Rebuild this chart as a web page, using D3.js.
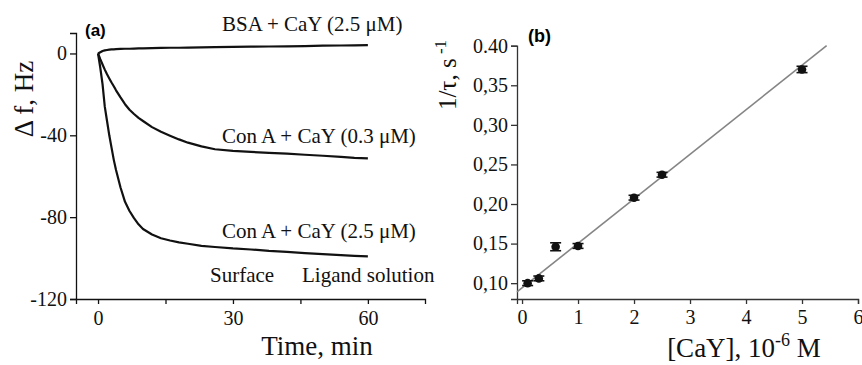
<!DOCTYPE html>
<html>
<head>
<meta charset="utf-8">
<script src="https://cdn.jsdelivr.net/npm/d3@7/dist/d3.min.js"></script>
<style>
  body { margin: 0; background: #fff; }
  svg { display: block; }
  .serif { font-family: "Liberation Serif", "Times New Roman", serif; }
</style>
</head>
<body>
<svg id="chart" width="862" height="365"></svg>
<script>
// panel (a): frequency shift vs time
const timeMin = [0, 0.5, 1, 1.5, 2, 2.5, 3, 3.5, 4, 5, 6, 7, 8, 9, 10, 12, 14, 16, 18, 20, 23, 26, 30, 34, 38, 42, 46, 50, 54, 57, 60];
const bsaShift = [0, 0.6, 1.2, 1.5, 1.7, 1.9, 2.0, 2.0, 2.1, 2.2, 2.3, 2.3, 2.4, 2.5, 2.5, 2.6, 2.7, 2.8, 2.8, 2.9, 3.0, 3.1, 3.2, 3.3, 3.4, 3.5, 3.6, 3.8, 3.9, 4.0, 4.1];
const conA03Shift = [0, -2.8, -5.4, -7.9, -10.2, -12.2, -14.2, -16.0, -18.0, -21.5, -24.8, -27.5, -29.6, -31.5, -33.0, -36.0, -38.3, -40.2, -42.0, -43.6, -45.4, -46.8, -47.6, -48.1, -48.6, -49.0, -49.5, -50.0, -50.5, -51.0, -51.3];
const conA25Shift = [0, -7, -15, -26, -33, -40, -46, -52, -57, -65.5, -72.5, -77, -80.5, -83.5, -85.8, -88.5, -90.3, -91.4, -92.3, -93.0, -94.0, -94.6, -95.3, -95.8, -96.5, -97.0, -97.6, -98.1, -98.6, -98.9, -99.2];
const timeTicks = [0, 15, 30, 45, 60];
const timeTickLabels = ["0", "", "30", "", "60"];
const shiftTicks = [0, -40, -80, -120];

// panel (b): rate vs concentration
const cayConc = [0.1, 0.3, 0.6, 1, 2, 2.5, 5];
const invTau = [0.100, 0.106, 0.146, 0.147, 0.208, 0.237, 0.370];
const invTauErr = [0.003, 0.003, 0.005, 0.003, 0.003, 0.003, 0.004];
const fitLine = [{ c: -0.09, r: 0.089 }, { c: 5.44, r: 0.400 }];
const concTicks = [0, 1, 2, 3, 4, 5, 6];
const rateTicks = [0.10, 0.15, 0.20, 0.25, 0.30, 0.35, 0.40];
const rateTickLabels = ["0,10", "0,15", "0,20", "0,25", "0,30", "0,35", "0.40"];

const sans = "'Liberation Sans', Arial, sans-serif";

const svg = d3.select("#chart");

// ---------- panel (a) ----------
const x = d3.scaleLinear().domain([-4.9, 72.7]).range([76, 425]);
const y = d3.scaleLinear().domain([-120, 10]).range([299, 33]);

const yAxis = svg.append("g")
  .attr("transform", "translate(76,0)")
  .call(d3.axisLeft(y).tickValues(shiftTicks).tickSizeOuter(0).tickSize(6).tickPadding(3)
    .tickFormat(d => String(d)));

const xAxis = svg.append("g")
  .attr("transform", "translate(0,299)")
  .call(d3.axisBottom(x).tickValues(timeTicks).tickSizeOuter(0).tickSize(5).tickPadding(7)
    .tickFormat((d, i) => timeTickLabels[i]));

[yAxis, xAxis].forEach(g => {
  g.attr("font-family", null).attr("font-size", null);
  g.selectAll("path, line").attr("stroke", "#111").attr("stroke-width", 1.3);
  g.selectAll("text").attr("class", "serif").style("font-size", "20px").attr("fill", "#111");
});

const line = d3.line().x(d => x(d[0])).y(d => y(d[1]));
[bsaShift, conA03Shift, conA25Shift].forEach(vals => {
  svg.append("path")
    .datum(timeMin.map((t, i) => [t, vals[i]]))
    .attr("fill", "none")
    .attr("stroke", "#111")
    .attr("stroke-width", 2.2)
    .attr("stroke-linejoin", "round")
    .attr("d", line);
});

svg.append("text").attr("x", 85).attr("y", 36)
  .attr("font-family", sans).attr("font-weight", "bold").attr("font-size", 17).text("(a)");

const annot = [
  { t: "BSA + CaY (2.5 \u03bcM)", x: 222, y: 31 },
  { t: "Con A + CaY (0.3 \u03bcM)", x: 222, y: 143 },
  { t: "Con A + CaY (2.5 \u03bcM)", x: 222, y: 238 },
  { t: "Surface", x: 210, y: 282 },
  { t: "Ligand solution", x: 302, y: 282 }
];
svg.selectAll(".annot").data(annot).join("text")
  .attr("class", "serif")
  .attr("x", d => d.x).attr("y", d => d.y)
  .style("font-size", "21px").attr("fill", "#111")
  .text(d => d.t);

svg.append("text")
  .attr("class", "serif")
  .attr("transform", "translate(33,99) rotate(-90)")
  .attr("text-anchor", "middle")
  .style("font-size", "27px").attr("fill", "#111")
  .text("\u0394 f, Hz");

svg.append("text")
  .attr("class", "serif")
  .attr("x", 317).attr("y", 355)
  .attr("text-anchor", "middle")
  .style("font-size", "27px").attr("fill", "#111")
  .text("Time, min");

// ---------- panel (b) ----------
const x2 = d3.scaleLinear().domain([-0.09, 6]).range([517, 858]);
const y2 = d3.scaleLinear().domain([0.08, 0.40]).range([299, 45.7]);

const y2Axis = svg.append("g")
  .attr("transform", "translate(517,0)")
  .call(d3.axisLeft(y2).tickValues(rateTicks).tickSizeOuter(0).tickSize(6).tickPadding(3)
    .tickFormat((d, i) => rateTickLabels[i]));

const x2Axis = svg.append("g")
  .attr("transform", "translate(0,299)")
  .call(d3.axisBottom(x2).tickValues(concTicks).tickSizeOuter(0).tickSize(5).tickPadding(6)
    .tickFormat(d => String(d)));

[y2Axis, x2Axis].forEach(g => {
  g.attr("font-family", null).attr("font-size", null);
  g.selectAll("path, line").attr("stroke", "#333").attr("stroke-width", 1.3);
  g.selectAll("text").attr("class", "serif").style("font-size", "20px").attr("fill", "#111");
});

svg.append("path")
  .datum(fitLine)
  .attr("fill", "none")
  .attr("stroke", "#858585")
  .attr("stroke-width", 1.6)
  .attr("d", d3.line().x(d => x2(d.c)).y(d => y2(d.r)));

const pts = cayConc.map((c, i) => ({ c: c, r: invTau[i], e: invTauErr[i] }));
const eb = svg.append("g").attr("stroke", "#111").attr("stroke-width", 1.6);
pts.forEach(d => {
  const cx = x2(d.c);
  eb.append("line").attr("x1", cx).attr("x2", cx).attr("y1", y2(d.r - d.e)).attr("y2", y2(d.r + d.e));
  [d.r - d.e, d.r + d.e].forEach(v => {
    eb.append("line").attr("x1", cx - 5.5).attr("x2", cx + 5.5).attr("y1", y2(v)).attr("y2", y2(v));
  });
});
svg.selectAll(".pt").data(pts).join("circle")
  .attr("class", "pt")
  .attr("cx", d => x2(d.c)).attr("cy", d => y2(d.r))
  .attr("r", 4.3).attr("fill", "#111");

svg.append("text").attr("x", 528).attr("y", 42)
  .attr("font-family", sans).attr("font-weight", "bold").attr("font-size", 18).text("(b)");

const yl = svg.append("text")
  .attr("class", "serif")
  .attr("transform", "translate(456,75) rotate(-90)")
  .attr("text-anchor", "middle")
  .style("font-size", "25px").attr("fill", "#111");
yl.append("tspan").text("1/\u03c4, s");
yl.append("tspan").attr("dy", -10).style("font-size", "17px").text(" -1");

const xl = svg.append("text")
  .attr("class", "serif")
  .attr("x", 744).attr("y", 357)
  .attr("text-anchor", "middle")
  .style("font-size", "27px").attr("fill", "#111");
xl.append("tspan").text("[CaY], 10");
xl.append("tspan").attr("dy", -11).style("font-size", "18px").text("-6");
xl.append("tspan").attr("dy", 11).text(" M");
</script>
</body>
</html>
